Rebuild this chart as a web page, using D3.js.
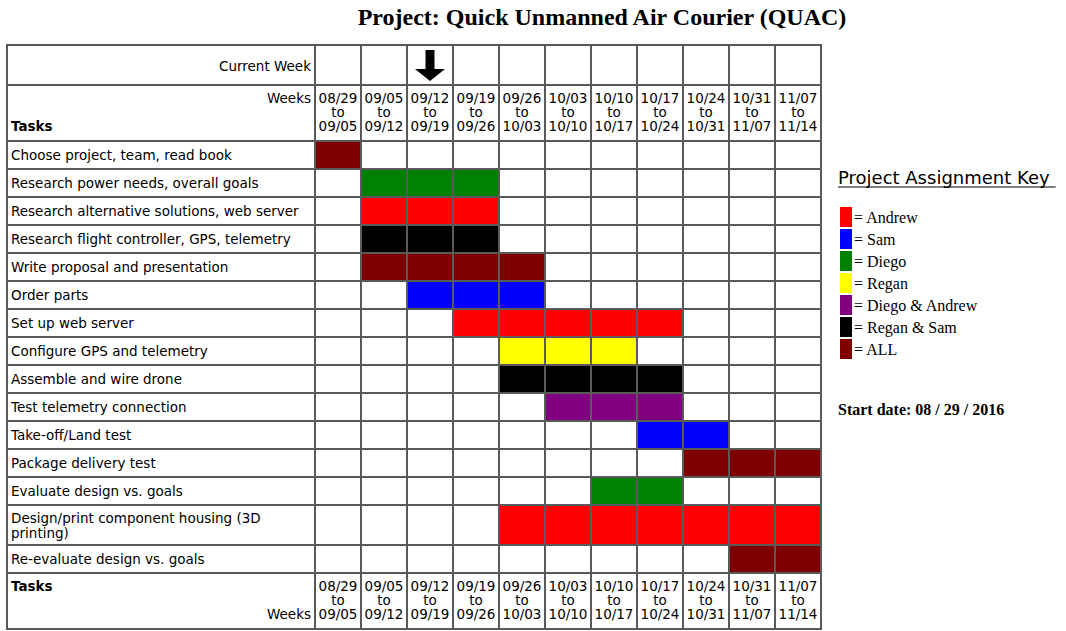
<!DOCTYPE html>
<html>
<head>
<meta charset="utf-8">
<script src="https://cdn.jsdelivr.net/npm/d3@7"></script>
<style>
  body { margin: 0; background: #fff; }
</style>
</head>
<body>
<div id="gantt"></div>
<script>
// week columns
const weekStarts = ["08/29", "09/05", "09/12", "09/19", "09/26", "10/03", "10/10", "10/17", "10/24", "10/31", "11/07"];
const weekEnds = ["09/05", "09/12", "09/19", "09/26", "10/03", "10/10", "10/17", "10/24", "10/31", "11/07", "11/14"];
const currentWeek = 2;

// tasks, who does them, first and last week (index into weekStarts)
const tasks = [
    "Choose project, team, read book",
    "Research power needs, overall goals",
    "Research alternative solutions, web server",
    "Research flight controller, GPS, telemetry",
    "Write proposal and presentation",
    "Order parts",
    "Set up web server",
    "Configure GPS and telemetry",
    "Assemble and wire drone",
    "Test telemetry connection",
    "Take-off/Land test",
    "Package delivery test",
    "Evaluate design vs. goals",
    "Design/print component housing (3D printing)",
    "Re-evaluate design vs. goals"
];
const owners = ["ALL", "Diego", "Andrew", "Regan & Sam", "ALL", "Sam", "Andrew", "Regan",
    "Regan & Sam", "Diego & Andrew", "Sam", "ALL", "Diego", "Andrew", "ALL"];
const startWeeks = [0, 1, 1, 1, 1, 2, 3, 4, 4, 5, 7, 8, 6, 4, 9];
const endWeeks = [0, 3, 3, 3, 4, 4, 7, 6, 7, 7, 8, 10, 7, 10, 10];

// legend
const keyNames = ["Andrew", "Sam", "Diego", "Regan", "Diego & Andrew", "Regan & Sam", "ALL"];
const keyColors = ["#ff0000", "#0000ff", "#008000", "#ffff00", "#800080", "#000000", "#800000"];
const startDate = "08 / 29 / 2016";

const sans = "'DejaVu Sans', Verdana, sans-serif";
const serif = "'Liberation Serif', 'Times New Roman', serif";
const lineColor = "#5a5a5a";
const cellFont = "13.5px";

// scales
const color = d3.scaleOrdinal(keyNames, keyColors);
const x = d3.scaleLinear([0, weekStarts.length], [315, 821]);
const tableLeft = 7;
const tableTop = 45;

const svg = d3.select("#gantt")
    .append("svg")
    .attr("width", 1066)
    .attr("height", 631);

// title
svg.append("text")
    .attr("x", 602)
    .attr("y", 25)
    .attr("text-anchor", "middle")
    .style("font-family", serif)
    .style("font-weight", "bold")
    .style("font-size", "24px")
    .text("Project: Quick Unmanned Air Courier (QUAC)");

const fills = svg.append("g");
const labels = svg.append("g");

// task labels first, so that long ones can be wrapped and measured
let taskText = labels.selectAll("text.task")
    .data(tasks)
    .enter()
    .append("text")
    .attr("class", "task")
    .attr("x", tableLeft + 4)
    .style("font-family", sans)
    .style("font-size", cellFont);

let lineCounts = [];
taskText.each(function(d, i) {
    let el = d3.select(this);
    let words = d.split(" ");
    let line = [];
    let tspan = el.append("tspan").attr("x", tableLeft + 4).attr("dy", 0);
    let n = 1;
    words.forEach(function(w) {
        line.push(w);
        tspan.text(line.join(" "));
        if (tspan.node().getComputedTextLength() > 298 && line.length > 1) {
            line.pop();
            tspan.text(line.join(" "));
            line = [w];
            tspan = el.append("tspan").attr("x", tableLeft + 4).attr("dy", 15).text(w);
            n++;
        }
    });
    lineCounts.push(n);
});

// row heights: current week row, week header, task rows, bottom header
const rowHeights = [40, 56].concat(lineCounts.map(n => Math.max(28, 14 * n + 12)), [56]);
const rowTops = [tableTop].concat(Array.from(d3.cumsum(rowHeights), v => tableTop + v));
const taskTop = i => rowTops[i + 2];
const taskHeight = i => rowHeights[i + 2];

taskText.attr("y", function(d, i) {
    let n = lineCounts[i];
    return taskTop(i) + taskHeight(i) / 2 + 5 - (n - 1) * 7.5;
});

// coloured cells
tasks.forEach(function(t, i) {
    fills.append("rect")
        .attr("x", x(startWeeks[i]))
        .attr("y", taskTop(i))
        .attr("width", x(endWeeks[i] + 1) - x(startWeeks[i]))
        .attr("height", taskHeight(i))
        .style("fill", color(owners[i]));
});

// current week arrow
let ax = (x(currentWeek) + x(currentWeek + 1)) / 2;
let at = rowTops[0];
svg.append("path")
    .attr("d", `M${ax - 4.5},${at + 5} L${ax + 4.5},${at + 5} L${ax + 4.5},${at + 24} L${ax + 15},${at + 24}
        L${ax},${at + 36} L${ax - 15},${at + 24} L${ax - 4.5},${at + 24} Z`)
    .style("fill", "#000");

// header texts
const colLabelX = x(0) - 4;
labels.append("text")
    .attr("x", colLabelX)
    .attr("y", rowTops[0] + 26)
    .attr("text-anchor", "end")
    .style("font-family", sans)
    .style("font-size", cellFont)
    .text("Current Week");

function weekHeader(top, tasksOnTop) {
    let first = top + 18;
    labels.append("text")
        .attr("x", colLabelX)
        .attr("y", tasksOnTop ? first + 28 : first)
        .attr("text-anchor", "end")
        .style("font-family", sans)
        .style("font-size", cellFont)
        .text("Weeks");
    labels.append("text")
        .attr("x", tableLeft + 4)
        .attr("y", tasksOnTop ? first : first + 28)
        .style("font-family", sans)
        .style("font-size", cellFont)
        .style("font-weight", "bold")
        .text("Tasks");
    weekStarts.forEach(function(w, i) {
        let cx = (x(i) + x(i + 1)) / 2;
        [w, "to", weekEnds[i]].forEach(function(s, k) {
            labels.append("text")
                .attr("x", cx)
                .attr("y", first + k * 14)
                .attr("text-anchor", "middle")
                .style("font-family", sans)
                .style("font-size", cellFont)
                .text(s);
        });
    });
}
weekHeader(rowTops[1], false);
weekHeader(rowTops[rowTops.length - 2], true);

// grid
const grid = svg.append("g")
    .style("stroke", lineColor)
    .style("stroke-width", 2);
const tableBottom = rowTops[rowTops.length - 1];
grid.selectAll("line.h")
    .data(rowTops)
    .enter()
    .append("line")
    .attr("x1", tableLeft - 1)
    .attr("x2", x(weekStarts.length) + 1)
    .attr("y1", d => d)
    .attr("y2", d => d);
grid.selectAll("line.v")
    .data([tableLeft].concat(d3.range(weekStarts.length + 1).map(i => x(i))))
    .enter()
    .append("line")
    .attr("x1", d => d)
    .attr("x2", d => d)
    .attr("y1", tableTop)
    .attr("y2", tableBottom);

// legend
const key = svg.append("g").attr("transform", "translate(838, 0)");
let keyTitle = key.append("text")
    .attr("x", 0)
    .attr("y", 184)
    .style("font-family", sans)
    .style("font-size", "18px")
    .text("Project Assignment Key");
key.append("line")
    .attr("x1", 0)
    .attr("x2", keyTitle.node().getComputedTextLength() + 6)
    .attr("y1", 187)
    .attr("y2", 187)
    .style("stroke", "#000")
    .style("stroke-width", 1.2);

key.selectAll("rect")
    .data(keyNames)
    .enter()
    .append("rect")
    .attr("x", 2)
    .attr("y", (d, i) => 207 + i * 22)
    .attr("width", 12)
    .attr("height", 20)
    .style("fill", d => color(d));

key.selectAll("text.item")
    .data(keyNames)
    .enter()
    .append("text")
    .attr("class", "item")
    .attr("x", 16)
    .attr("y", (d, i) => 223 + i * 22)
    .style("font-family", serif)
    .style("font-size", "16px")
    .text(d => "= " + d);

key.append("text")
    .attr("x", 0)
    .attr("y", 415)
    .style("font-family", serif)
    .style("font-size", "16px")
    .style("font-weight", "bold")
    .text("Start date: " + startDate);
</script>
</body>
</html>
